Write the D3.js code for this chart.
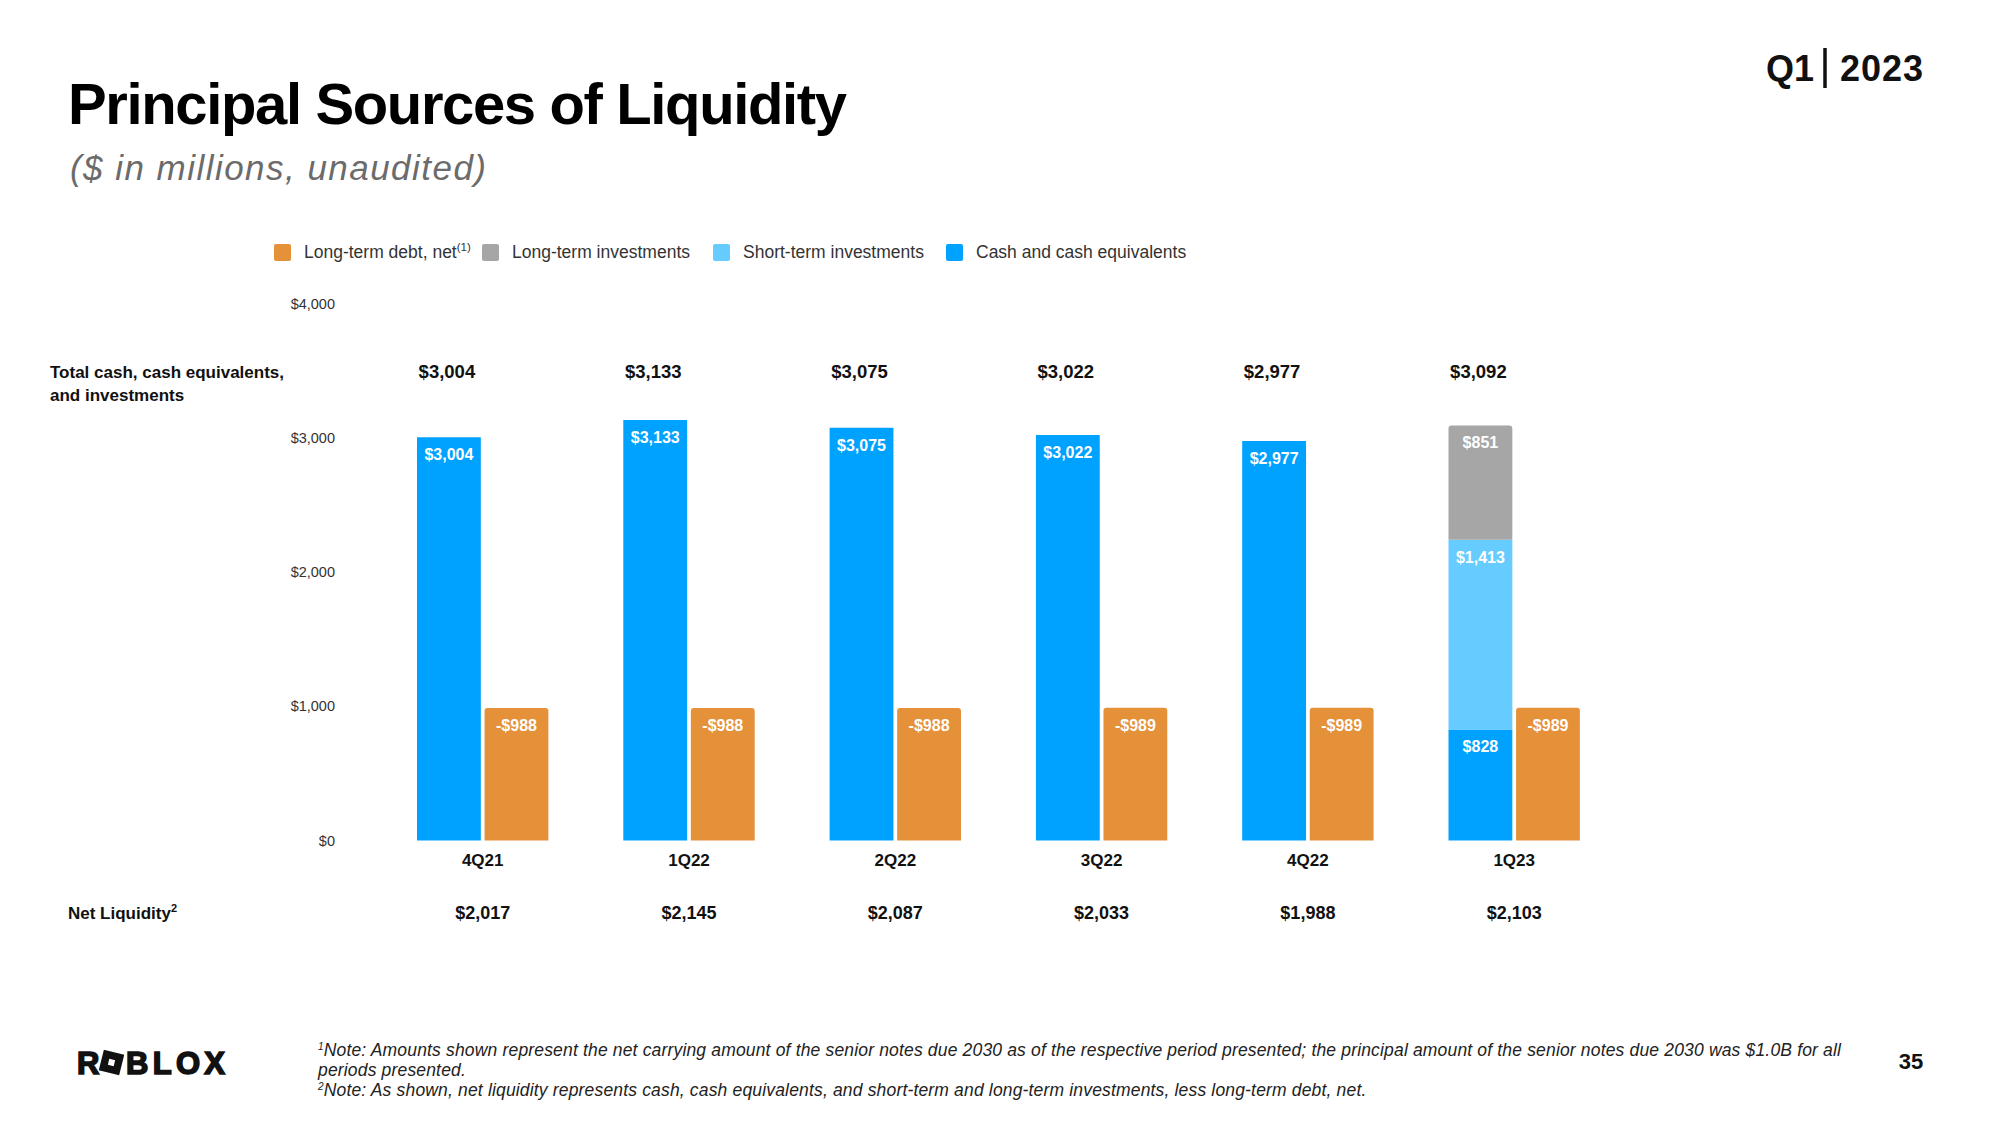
<!DOCTYPE html>
<html>
<head>
<meta charset="utf-8">
<script src="https://cdn.jsdelivr.net/npm/d3@7"></script>
<style>
  html, body { margin: 0; padding: 0; background: #fff; }
  svg { display: block; }
  text { font-family: "Liberation Sans", Arial, sans-serif; }
</style>
</head>
<body>
<svg id="chart" width="2000" height="1125"></svg>
<script>
// ---------------- data ----------------
const categories = ["4Q21", "1Q22", "2Q22", "3Q22", "4Q22", "1Q23"];
const cashEquivalents = [3004, 3133, 3075, 3022, 2977, 828];
const shortTermInvestments = [0, 0, 0, 0, 0, 1413];
const longTermInvestments = [0, 0, 0, 0, 0, 851];
const longTermDebt = [-988, -988, -988, -989, -989, -989];
const totalCashInvestments = [3004, 3133, 3075, 3022, 2977, 3092];
const netLiquidity = [2017, 2145, 2087, 2033, 1988, 2103];
const yTicks = [0, 1000, 2000, 3000, 4000];
const legendItems = [
  { key: "debt", label: "Long-term debt, net", sup: "(1)" },
  { key: "lti", label: "Long-term investments" },
  { key: "sti", label: "Short-term investments" },
  { key: "cash", label: "Cash and cash equivalents" }
];

// ---------------- style ----------------
const colors = { cash: "#00A2FF", sti: "#66CCFF", lti: "#A6A6A6", debt: "#E5913A" };
const money = v => (v < 0 ? "-$" : "$") + d3.format(",")(Math.abs(v));

const svg = d3.select("#chart");

function fit(sel, target) {
  const n = sel.text().length;
  const w = sel.node().getComputedTextLength();
  sel.attr("letter-spacing", ((target - w) / Math.max(1, n - 1)).toFixed(3));
}

// ---------------- header ----------------
const title = svg.append("text").attr("x", 68).attr("y", 124)
  .attr("font-size", 58).attr("font-weight", 700).attr("fill", "#000")
  .text("Principal Sources of Liquidity");
fit(title, 779);

const sub = svg.append("text").attr("x", 70).attr("y", 180)
  .attr("font-family", "Roboto, 'Liberation Sans', sans-serif")
  .attr("font-size", 35).attr("font-weight", 300).attr("font-style", "italic").attr("fill", "#6b6b6b")
  .text("($ in millions, unaudited)");
fit(sub, 416);

svg.append("text").attr("x", 1814).attr("y", 81).attr("text-anchor", "end")
  .attr("font-family", "Inter, 'Liberation Sans', sans-serif")
  .attr("font-size", 36).attr("font-weight", 600).attr("fill", "#111").text("Q1");
svg.append("line").attr("x1", 1825).attr("x2", 1825).attr("y1", 48).attr("y2", 88)
  .attr("stroke", "#111").attr("stroke-width", 3.5);
const yr = svg.append("text").attr("x", 1840).attr("y", 81).attr("font-family", "Inter, 'Liberation Sans', sans-serif")
  .attr("font-size", 36).attr("font-weight", 600).attr("fill", "#111").text("2023");
fit(yr, 83);

// ---------------- legend ----------------
const legendX = [274, 482, 713, 946];
const lg = svg.append("g");
legendItems.forEach((it, i) => {
  lg.append("rect").attr("x", legendX[i]).attr("y", 244).attr("width", 17).attr("height", 17)
    .attr("rx", 2).attr("fill", colors[it.key]);
  const t = lg.append("text").attr("x", legendX[i] + 30).attr("y", 258)
    .attr("font-size", 17.5).attr("fill", "#333").text(it.label);
  if (it.sup) t.append("tspan").attr("font-size", 11.5).attr("dy", -7).text(it.sup);
});

// ---------------- scales ----------------
const y = d3.scaleLinear().domain([0, 4000]).range([840.6, 303.6]);
const xc = d3.scalePoint().domain(categories).range([482.7, 1514.2]);
const xs = d3.scaleBand().domain(["assets", "debt"]).range([-65.7, 65.7]).paddingInner(0.055);
const bw = xs.bandwidth();

// y axis (labels only)
const yAxis = d3.axisLeft(y).tickValues(yTicks).tickSize(0).tickPadding(0).tickFormat(d => "$" + d3.format(",")(d));
const ya = svg.append("g").attr("transform", "translate(335,0)").call(yAxis);
ya.select(".domain").remove();
ya.selectAll("text").attr("font-family", "'Liberation Sans', Arial, sans-serif")
  .attr("font-size", 14.5).attr("fill", "#333");

// rounded-top bar path
function topRounded(x, yTop, w, h, r) {
  r = Math.min(r, h, w / 2);
  return `M${x},${yTop + h}V${yTop + r}Q${x},${yTop} ${x + r},${yTop}H${x + w - r}Q${x + w},${yTop} ${x + w},${yTop + r}V${yTop + h}Z`;
}

// stacked asset bars
const stackKeys = ["cash", "sti", "lti"];
const rows = categories.map((c, i) => ({ cat: c, cash: cashEquivalents[i], sti: shortTermInvestments[i], lti: longTermInvestments[i] }));
const series = d3.stack().keys(stackKeys)(rows);

const barsG = svg.append("g");
series.forEach(s => {
  s.forEach((d, i) => {
    const v = d[1] - d[0];
    if (v <= 0) return;
    const x0 = xc(d.data.cat) + xs("assets");
    const isTop = stackKeys.slice(stackKeys.indexOf(s.key) + 1).every(k => d.data[k] === 0);
    const r = (isTop && s.key !== "cash") ? 3 : 0;
    barsG.append("path").attr("d", topRounded(x0, y(d[1]), bw, y(d[0]) - y(d[1]), r))
      .attr("fill", colors[s.key]);
    barsG.append("text").attr("x", x0 + bw / 2).attr("y", y(d[1]) + 23)
      .attr("text-anchor", "middle").attr("font-size", 16).attr("font-weight", 700)
      .attr("fill", "#fff").text(money(v));
  });
});

// debt bars (drawn with magnitude)
categories.forEach((c, i) => {
  const v = longTermDebt[i];
  const x0 = xc(c) + xs("debt");
  barsG.append("path").attr("d", topRounded(x0, y(Math.abs(v)), bw, y(0) - y(Math.abs(v)), 3))
    .attr("fill", colors.debt);
  barsG.append("text").attr("x", x0 + bw / 2).attr("y", y(Math.abs(v)) + 23)
    .attr("text-anchor", "middle").attr("font-size", 16).attr("font-weight", 700)
    .attr("fill", "#fff").text(money(v));
});

// ---------------- rows of labels ----------------
const bold = "Inter, 'Liberation Sans', sans-serif";
svg.append("text").attr("x", 50).attr("y", 378).attr("font-family", bold)
  .attr("font-size", 17).attr("font-weight", 700).attr("fill", "#111").text("Total cash, cash equivalents,");
svg.append("text").attr("x", 50).attr("y", 401).attr("font-family", bold)
  .attr("font-size", 17).attr("font-weight", 700).attr("fill", "#111").text("and investments");

categories.forEach((c, i) => {
  svg.append("text").attr("x", xc(c) + xs("assets") + bw / 2 - 2).attr("y", 378)
    .attr("text-anchor", "middle").attr("font-family", bold).attr("font-size", 18.5)
    .attr("font-weight", 700).attr("fill", "#111").text(money(totalCashInvestments[i]));
  svg.append("text").attr("x", xc(c)).attr("y", 866)
    .attr("text-anchor", "middle").attr("font-family", bold).attr("font-size", 17)
    .attr("font-weight", 700).attr("fill", "#111").text(c);
  svg.append("text").attr("x", xc(c)).attr("y", 919)
    .attr("text-anchor", "middle").attr("font-family", bold).attr("font-size", 18)
    .attr("font-weight", 700).attr("fill", "#111").text(money(netLiquidity[i]));
});

const nl = svg.append("text").attr("x", 68).attr("y", 919).attr("font-family", bold)
  .attr("font-size", 17).attr("font-weight", 700).attr("fill", "#111").text("Net Liquidity");
nl.append("tspan").attr("font-size", 11).attr("dy", -7).text("2");

// ---------------- footer ----------------
const logoFont = "'Liberation Sans', Arial, sans-serif";
const logo = svg.append("g");
logo.append("text").attr("x", 77).attr("y", 1074).attr("font-family", logoFont)
  .attr("font-size", 31).attr("font-weight", 700).attr("fill", "#111")
  .attr("stroke", "#111").attr("stroke-width", 1.6).text("R");
logo.append("g").attr("transform", "translate(111.5,1062.5) rotate(14)")
  .call(g => {
    g.append("rect").attr("x", -10.5).attr("y", -10.5).attr("width", 21).attr("height", 21).attr("fill", "#111");
    g.append("rect").attr("x", -3).attr("y", -3).attr("width", 6).attr("height", 6).attr("fill", "#fff");
  });
const blox = logo.append("text").attr("x", 126).attr("y", 1074).attr("font-family", logoFont)
  .attr("font-size", 31).attr("font-weight", 700).attr("fill", "#111")
  .attr("stroke", "#111").attr("stroke-width", 1.6).text("BLOX");
fit(blox, 99);

const fnFont = "Roboto, 'Liberation Sans', sans-serif";
const f1 = svg.append("text").attr("x", 318).attr("y", 1056).attr("font-family", fnFont)
  .attr("font-size", 17.5).attr("font-style", "italic").attr("fill", "#222");
f1.append("tspan").attr("font-size", 10).attr("dy", -6).text("1");
f1.append("tspan").attr("dy", 6).text("Note: Amounts shown represent the net carrying amount of the senior notes due 2030 as of the respective period presented; the principal amount of the senior notes due 2030 was $1.0B for all");
fit(f1, 1523);
const f2 = svg.append("text").attr("x", 318).attr("y", 1076).attr("font-family", fnFont)
  .attr("font-size", 17.5).attr("font-style", "italic").attr("fill", "#222").text("periods presented.");
f2.attr("letter-spacing", f1.attr("letter-spacing"));
const f3 = svg.append("text").attr("x", 318).attr("y", 1096).attr("font-family", fnFont)
  .attr("font-size", 17.5).attr("font-style", "italic").attr("fill", "#222");
f3.append("tspan").attr("font-size", 10).attr("dy", -6).text("2");
f3.append("tspan").attr("dy", 6).text("Note: As shown, net liquidity represents cash, cash equivalents, and short-term and long-term investments, less long-term debt, net.");
f3.attr("letter-spacing", f1.attr("letter-spacing"));

svg.append("text").attr("x", 1911).attr("y", 1069).attr("text-anchor", "middle").attr("font-family", bold)
  .attr("font-size", 22).attr("font-weight", 700).attr("fill", "#111").text("35");
</script>
</body>
</html>
